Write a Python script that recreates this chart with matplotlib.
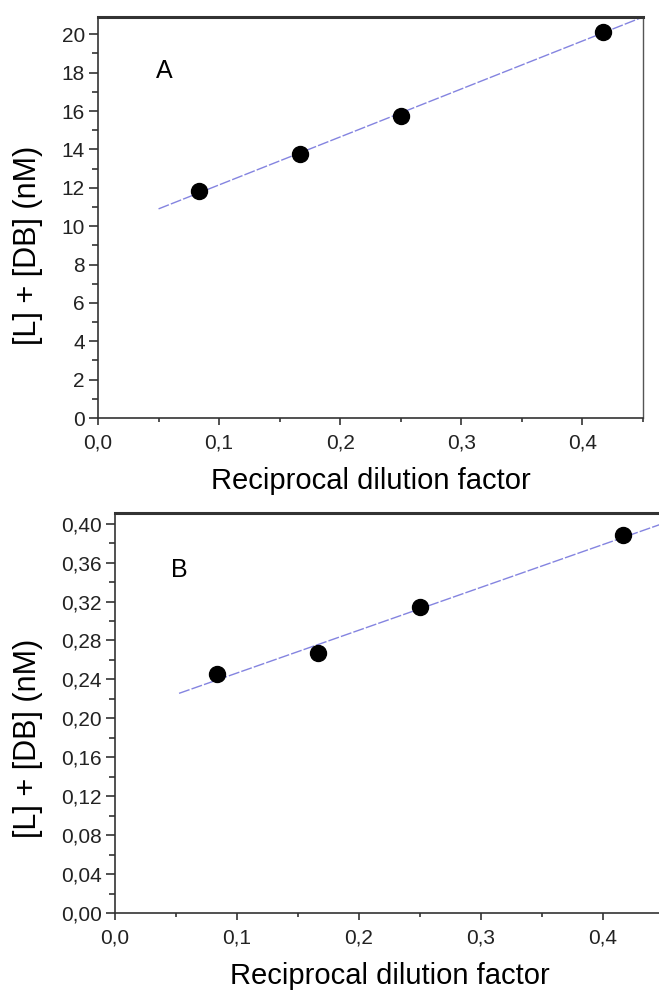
import matplotlib
matplotlib.use("Agg")
import matplotlib.pyplot as plt
from matplotlib.ticker import MultipleLocator, FuncFormatter
import numpy as np

plt.rcParams['font.family'] = ['Liberation Sans', 'DejaVu Sans']

# Panel A data
xA = [0.0833, 0.1667, 0.25, 0.4167]
yA = [11.85, 13.75, 15.75, 20.1]
fitA_x = [0.05, 0.45]
fitA_slope, fitA_int = 25.0, 9.65

# Panel B data
xB = [0.0833, 0.1667, 0.25, 0.4167]
yB = [0.246, 0.267, 0.314, 0.388]
fitB_x = [0.0525, 0.45]
fitB_slope, fitB_int = 0.44, 0.2026

xlabel = "Reciprocal dilution factor"
ylabel = "[L] + [DB] (nM)"

fig = plt.figure(figsize=(6.59, 9.96), dpi=100)
axA = fig.add_axes([98/659, 1-418/996, 545/659, 401/996])
axB = fig.add_axes([115/659, 1-913/996, 549/659, 400/996])

line_kw = dict(color='#8484e0', lw=1.0, ls=(0, (8, 1.5)))
mk_kw = dict(ls='none', marker='o', ms=11.5, color='black')

def comma(fmt):
    return FuncFormatter(lambda v, p: (fmt % v).replace('.', ','))

# Panel A
fx = np.array(fitA_x)
axA.plot(fx, fitA_int + fitA_slope * fx, **line_kw)
axA.plot(xA, yA, **mk_kw)
axA.set_xlim(0, 0.45)
axA.set_ylim(0, 20.9)
axA.yaxis.set_major_locator(MultipleLocator(2))
axA.yaxis.set_minor_locator(MultipleLocator(1))
axA.yaxis.set_major_formatter(comma('%d'))
axA.text(0.0545, 18.1, "A", fontsize=18, va='center', ha='center')

# Panel B
fx = np.array(fitB_x)
axB.plot(fx, fitB_int + fitB_slope * fx, **line_kw)
axB.plot(xB, yB, **mk_kw)
axB.set_xlim(0, 0.45)
axB.set_ylim(0, 0.411)
axB.yaxis.set_major_locator(MultipleLocator(0.04))
axB.yaxis.set_minor_locator(MultipleLocator(0.02))
axB.yaxis.set_major_formatter(comma('%.2f'))
axB.text(0.053, 0.352, "B", fontsize=18, va='center', ha='center')

label_pos = {axA: ((-0.158,), (-0.128, 0.431)), axB: ((-0.158,), (-0.158, 0.4375))}

for ax in (axA, axB):
    ax.xaxis.set_major_locator(MultipleLocator(0.1))
    ax.xaxis.set_minor_locator(MultipleLocator(0.05))
    ax.xaxis.set_major_formatter(comma('%.1f'))
    ax.tick_params(which='both', direction='out', top=False, right=False,
                   labelsize=15, colors='#222222', width=1.1)
    ax.tick_params(axis='x', which='major', length=5, pad=6)
    ax.tick_params(axis='x', which='minor', length=3)
    ax.tick_params(axis='y', which='major', length=6.5, pad=3)
    ax.tick_params(axis='y', which='minor', length=4)
    ax.set_xlabel(xlabel, fontsize=21, va='center')
    ax.set_ylabel(ylabel, fontsize=22, va='center', ha='center')
    (xl_y,), (yl_x, yl_y) = label_pos[ax]
    ax.xaxis.set_label_coords(0.5, xl_y)
    ax.yaxis.set_label_coords(yl_x, yl_y)
    for s in ax.spines.values():
        s.set_color('#333333')
        s.set_linewidth(1.2)
    ax.spines['top'].set_linewidth(2.2)
    ax.spines['right'].set_color('#555555')
    ax.spines['right'].set_linewidth(1.0)

fig.savefig("out.png", dpi=100)
